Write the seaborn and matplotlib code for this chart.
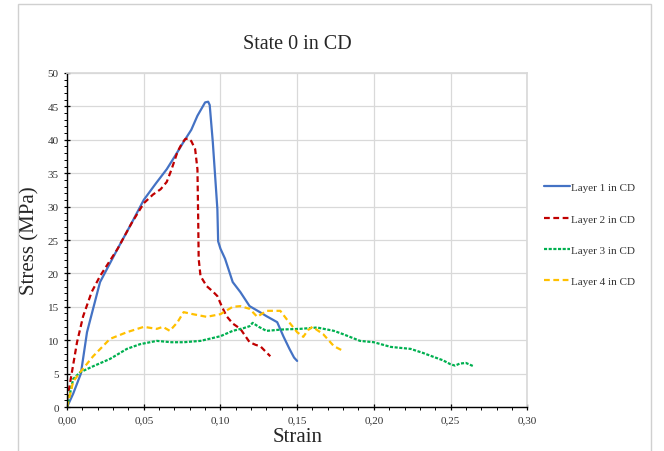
import matplotlib
matplotlib.use("Agg")
import matplotlib.pyplot as plt
import seaborn as sns
import pandas as pd
from matplotlib.ticker import MultipleLocator, FuncFormatter
from matplotlib.patches import Rectangle

# strain / stress values
layer1_strain = [0.0, 0.004, 0.009, 0.013, 0.0215, 0.033, 0.042, 0.05, 0.058, 0.065, 0.071, 0.076, 0.081, 0.085,
                 0.088, 0.090, 0.092, 0.093, 0.095, 0.097, 0.098, 0.0985, 0.100, 0.103, 0.108, 0.113, 0.119,
                 0.125, 0.130, 0.137, 0.141, 0.145, 0.148, 0.150]
layer1_stress = [0.0, 2.0, 5.0, 11.2, 18.7, 23.7, 27.5, 31.0, 33.5, 35.6, 37.8, 39.7, 41.5, 43.6,
                 44.8, 45.6, 45.7, 45.2, 39.7, 33.0, 29.6, 24.8, 23.7, 22.2, 18.7, 17.2, 15.1,
                 14.3, 13.6, 12.7, 10.6, 8.7, 7.4, 6.9]

layer2_strain = [0.0, 0.003, 0.0065, 0.0105, 0.016, 0.0215, 0.033, 0.042, 0.05, 0.056, 0.061, 0.065, 0.068,
                 0.072, 0.075, 0.077, 0.079, 0.081, 0.0835, 0.085, 0.0855, 0.0858, 0.087, 0.091, 0.095, 0.098,
                 0.101, 0.104, 0.108, 0.113, 0.119, 0.123, 0.126, 0.129, 0.1325]
layer2_stress = [1.0, 5.0, 9.7, 13.6, 17.2, 19.6, 23.7, 27.5, 30.5, 31.8, 32.6, 33.7, 35.5,
                 38.2, 39.5, 40.1, 40.2, 39.8, 38.6, 35.6, 28.0, 22.2, 19.6, 18.1, 17.3, 16.6,
                 15.0, 13.6, 12.5, 11.7, 9.7, 9.3, 9.1, 8.4, 7.6]

layer3_strain = [0.0, 0.004, 0.0085, 0.017, 0.028, 0.039, 0.0475, 0.0585, 0.068, 0.076, 0.087, 0.10, 0.108,
                 0.115, 0.119, 0.121, 0.125, 0.130, 0.140, 0.152, 0.163, 0.174, 0.18, 0.191, 0.20, 0.211,
                 0.224, 0.232, 0.239, 0.245, 0.25, 0.253, 0.256, 0.260, 0.265]
layer3_stress = [0.0, 4.2, 5.2, 6.1, 7.2, 8.7, 9.4, 9.9, 9.7, 9.7, 9.9, 10.6, 11.4,
                 11.8, 12.1, 12.6, 12.0, 11.4, 11.6, 11.7, 11.9, 11.4, 10.9, 9.9, 9.7, 9.0,
                 8.7, 8.1, 7.5, 7.0, 6.4, 6.2, 6.5, 6.6, 6.1]

layer4_strain = [0.0, 0.004, 0.0085, 0.017, 0.028, 0.039, 0.05, 0.0585, 0.0625, 0.067, 0.072, 0.076, 0.082,
                 0.091, 0.10, 0.108, 0.113, 0.119, 0.124, 0.13, 0.139, 0.143, 0.15, 0.154, 0.157, 0.16,
                 0.167, 0.174, 0.18]
layer4_stress = [0.0, 3.8, 5.2, 7.6, 10.2, 11.2, 12.0, 11.7, 12.0, 11.4, 12.7, 14.2, 13.9,
                 13.5, 13.9, 15.0, 15.1, 14.7, 13.5, 14.4, 14.4, 13.2, 11.2, 10.5, 11.5, 12.0,
                 10.9, 9.1, 8.4]

layer_names = ["Layer 1 in CD", "Layer 2 in CD", "Layer 3 in CD", "Layer 4 in CD"]
layer_colors = ["#4472C4", "#C00000", "#00B050", "#FFC000"]
layer_dashes = [(None, None), (2.6, 1.6), (1.4, 0.7), (2.6, 1.6)]

sns.set_theme(style="white")
plt.rcParams["font.family"] = ["Liberation Serif", "DejaVu Serif"]

fig = plt.figure(figsize=(6.64, 4.52), dpi=100)
ax = fig.add_axes([0.101, 0.0973, 0.693, 0.739])

series = [(layer1_strain, layer1_stress), (layer2_strain, layer2_stress),
          (layer3_strain, layer3_stress), (layer4_strain, layer4_stress)]

for (xs, ys), name, col, dash in zip(series, layer_names, layer_colors, layer_dashes):
    df = pd.DataFrame({"Strain": xs, "Stress": ys})
    sns.lineplot(data=df, x="Strain", y="Stress", sort=False, color=col, linewidth=1.6, ax=ax, label=name)
    line = ax.lines[-1]
    if dash[0] is not None:
        line.set_dashes(dash)

ax.set_xlim(0, 0.30)
ax.set_ylim(0, 50)
ax.xaxis.set_major_locator(MultipleLocator(0.05))
ax.xaxis.set_minor_locator(MultipleLocator(0.01))
ax.yaxis.set_major_locator(MultipleLocator(5))
ax.yaxis.set_minor_locator(MultipleLocator(1))
ax.xaxis.set_major_formatter(FuncFormatter(lambda v, p: f"{v:.2f}".replace(".", ",")))
ax.grid(True, which="major", color="#D9D9D9", linewidth=0.9)
ax.set_axisbelow(True)

for s in ["top", "right"]:
    ax.spines[s].set_color("#D9D9D9")
for s in ["left", "bottom"]:
    ax.spines[s].set_color("black")
    ax.spines[s].set_linewidth(1.0)

ax.tick_params(which="major", direction="inout", length=5, width=0.9, color="black",
               labelsize=8, labelcolor="#333333", left=True, bottom=True, right=False, top=False)
ax.tick_params(which="minor", direction="out", length=2.5, width=0.7, color="black",
               left=True, bottom=True, right=False, top=False)

ax.set_xlabel("Strain", fontsize=15, labelpad=2)
ax.set_ylabel("Stress (MPa)", fontsize=15, labelpad=6)
ax.set_title("State 0 in CD", fontsize=14.5, pad=18)

leg = ax.legend(loc="upper left", bbox_to_anchor=(1.015, 0.702), frameon=False, fontsize=8,
                handlelength=2.3, handletextpad=0.1, labelspacing=1.93)
for t in leg.get_texts():
    t.set_color("#333333")

fig.patches.append(Rectangle((0.027, -0.01), 0.953, 1.0, transform=fig.transFigure,
                             fill=False, edgecolor="#D0D0D0", linewidth=1.0))

fig.savefig("out.png", dpi=100)
